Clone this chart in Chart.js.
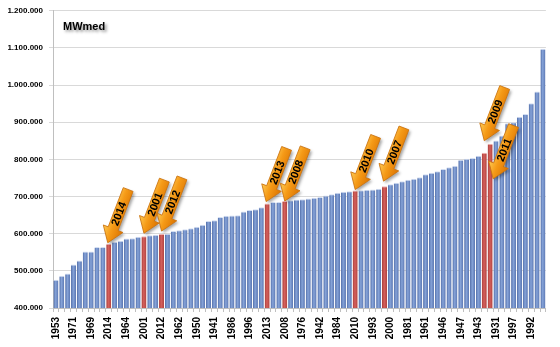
<!DOCTYPE html>
<html>
<head>
<meta charset="utf-8">
<script src="https://cdn.jsdelivr.net/npm/chart.js@4.4.1/dist/chart.umd.min.js"></script>
<style>
  body { margin: 0; background: #fff; }
  #box { width: 560px; height: 347px; }
</style>
</head>
<body>
<div id="box"><canvas id="mwChart" width="560" height="347"></canvas></div>
<script>
// years sorted by average MWmed (ascending)
const years = [
  1953, 1955, 1954, 1971, 1956, 1952, 1969, 1963, 1944, 2014,
  1968, 1967, 1964, 1959, 1934, 2001, 1936, 1951, 2012, 1999,
  1970, 1962, 1933, 1937, 1950, 1939, 1940, 1941, 1958, 1938,
  1986, 1935, 2003, 1996, 1948, 1960, 2013, 1974, 1977, 2008,
  1994, 1987, 1976, 1978, 2004, 1942, 1932, 1945, 1984, 1988,
  1972, 2010, 1998, 1973, 1993, 1957, 2007, 2000, 1975, 2002,
  1981, 1966, 1995, 1961, 1965, 1990, 1946, 2006, 1980, 1947,
  1949, 1989, 1943, 2009, 2011, 1931, 1985, 2005, 1997, 1979,
  1991, 1992, 1982, 1983
];
const values = [
  476000, 487000, 493000, 517000, 528000, 552000, 552000, 564000, 564000, 573000,
  578000, 581000, 587000, 588000, 592000, 593000, 596000, 597000, 599000, 600000,
  607000, 609000, 612000, 615000, 619000, 624000, 634000, 636000, 645000, 648000,
  649000, 650000, 660000, 664000, 666000, 671000, 681000, 685000, 685000, 688000,
  690000, 692000, 693000, 695000, 697000, 699000, 703000, 706000, 710000, 713000,
  714000, 716000, 717000, 718000, 719000, 721000, 728000, 733000, 737000, 741000,
  745000, 748000, 752000, 760000, 764000, 768000, 774000, 779000, 783000, 799000,
  802000, 804000, 810000, 818000, 842000, 851000, 864000, 897000, 900000, 915000,
  922000, 951000, 983000, 1098000
];
const redYears = [2001, 2007, 2008, 2009, 2010, 2011, 2012, 2013, 2014];
const arrowYears = [2014, 2001, 2012, 2013, 2008, 2010, 2007, 2009, 2011];
const yTicks = [400000, 500000, 600000, 700000, 800000, 900000, 1000000, 1100000, 1200000];

// pixel nudges of each arrow tip from its bar top
const arrowShift = [[-1, -1], [0, -3], [0, -3], [-1, -2], [0, 0], [0, -1], [-1, -5], [0, -12], [3, 35]];

function fmt(v) {
  return String(v).replace(/\B(?=(\d{3})+(?!\d))/g, '.');
}

function barFill(c) {
  const red = redYears.includes(years[c.dataIndex]);
  const base = red ? '#c0504d' : '#7090cc';
  const chart = c.chart;
  if (c.type !== 'data' || !chart.scales || !chart.scales.x || !chart.chartArea) return base;
  const x = chart.scales.x.getPixelForValue(c.dataIndex);
  const g = chart.ctx.createLinearGradient(x - 2.6, 0, x + 2.6, 0);
  if (red) {
    g.addColorStop(0, '#a83c39');
    g.addColorStop(0.45, '#d4605c');
    g.addColorStop(1, '#b0413e');
  } else {
    g.addColorStop(0, '#4f6ba6');
    g.addColorStop(0.45, '#86a3d8');
    g.addColorStop(1, '#5874b0');
  }
  return g;
}

const titlePlugin = {
  id: 'mwTitle',
  afterDraw: (chart) => {
    const c = chart.ctx;
    c.save();
    c.font = 'bold 11px "Liberation Sans", Arial, sans-serif';
    c.fillStyle = '#000';
    c.shadowColor = 'rgba(0, 0, 0, 0.45)';
    c.shadowBlur = 3;
    c.shadowOffsetX = 2;
    c.shadowOffsetY = 2;
    c.textBaseline = 'alphabetic';
    c.fillText('MWmed', chart.chartArea.left + 10, 30);
    c.restore();
  }
};

const arrowPlugin = {
  id: 'yearArrows',
  afterDatasetsDraw: (chart) => {
    const c = chart.ctx;
    const xs = chart.scales.x;
    const ys = chart.scales.y;
    const tilt = 21 * Math.PI / 180;
    const L = 57, H = 15, W = 21, S = 10.5;
    arrowYears.forEach((yr, k) => {
      const i = years.indexOf(yr);
      const tx = xs.getPixelForValue(i) + arrowShift[k][0];
      const ty = ys.getPixelForValue(values[i]) + arrowShift[k][1];
      c.save();
      c.translate(tx, ty);
      c.rotate(Math.PI / 2 + tilt);
      c.beginPath();
      c.moveTo(0, 0);
      c.lineTo(-H, W / 2);
      c.lineTo(-H, S / 2);
      c.lineTo(-L, S / 2);
      c.lineTo(-L, -S / 2);
      c.lineTo(-H, -S / 2);
      c.lineTo(-H, -W / 2);
      c.closePath();
      const g = c.createLinearGradient(0, -W / 2, 0, W / 2);
      g.addColorStop(0, '#dc7400');
      g.addColorStop(0.55, '#f59a17');
      g.addColorStop(1, '#ffcc55');
      c.shadowColor = 'rgba(0, 0, 0, 0.35)';
      c.shadowBlur = 3;
      c.shadowOffsetX = 2;
      c.shadowOffsetY = 2;
      c.fillStyle = g;
      c.fill();
      c.shadowColor = 'transparent';
      c.strokeStyle = '#cc7410';
      c.lineWidth = 0.8;
      c.stroke();
      // label along the shaft, reading upwards
      c.translate(-31, 0);
      c.rotate(Math.PI);
      c.font = 'bold 11px "Liberation Sans", Arial, sans-serif';
      c.fillStyle = '#000';
      c.textAlign = 'center';
      c.textBaseline = 'middle';
      c.fillText(String(yr), 0, 0.5);
      c.restore();
    });
  }
};

const ctx = document.getElementById('mwChart').getContext('2d');
const mwChart = new Chart(ctx, {
  type: 'bar',
  data: {
    labels: years.map(String),
    datasets: [{
      data: values,
      backgroundColor: barFill,
      borderColor: (c) => redYears.includes(years[c.dataIndex]) ? '#f0b5b3' : '#d3def2',
      borderWidth: { top: 1, left: 0, right: 0, bottom: 0 },
      borderSkipped: 'start',
      barPercentage: 0.86,
      categoryPercentage: 1
    }]
  },
  options: {
    responsive: false,
    animation: false,
    layout: { padding: { top: 9, right: 9, left: 0, bottom: 0 } },
    plugins: {
      legend: { display: false },
      tooltip: { enabled: false }
    },
    scales: {
      x: {
        grid: { display: true, drawOnChartArea: false, offset: true, tickLength: 4, color: '#bfbfbf' },
        border: { display: true, color: '#bfbfbf' },
        ticks: {
          autoSkip: false,
          minRotation: 90,
          maxRotation: 90,
          padding: 5,
          color: '#000',
          font: { family: '"Liberation Sans", Arial, sans-serif', size: 10, weight: 'bold' },
          callback: function (v, i) { return i % 3 === 0 ? this.getLabelForValue(v) : ''; }
        },
        afterFit: (scale) => { scale.height = 39; }
      },
      y: {
        min: 400000,
        max: 1200000,
        afterBuildTicks: (scale) => { scale.ticks = yTicks.map(v => ({ value: v })); },
        grid: { color: '#d9d9d9', tickLength: 4 },
        border: { display: true, color: '#bfbfbf' },
        ticks: {
          padding: 6,
          color: '#000',
          font: { family: '"Liberation Sans", Arial, sans-serif', size: 8, weight: 'bold' },
          callback: (v) => fmt(v)
        },
        afterFit: (scale) => { scale.width = 53; }
      }
    }
  },
  plugins: [arrowPlugin, titlePlugin]
});
</script>
</body>
</html>
